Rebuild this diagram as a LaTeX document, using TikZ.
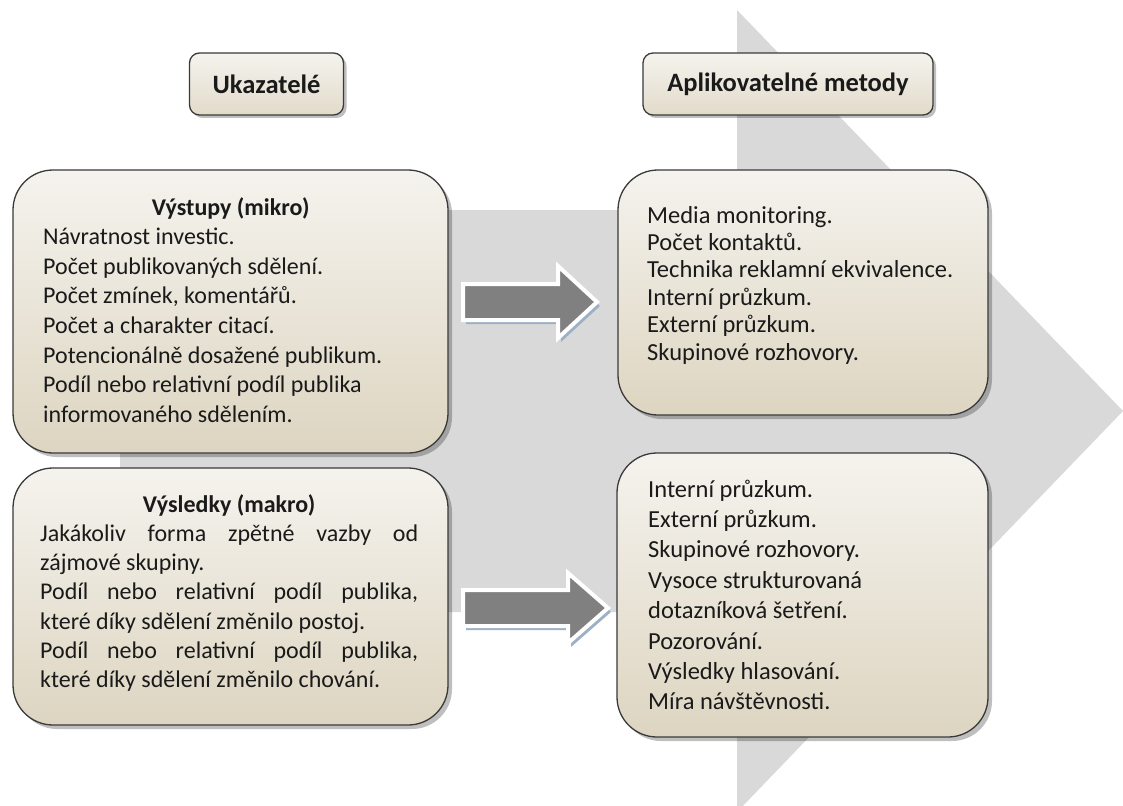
\documentclass[tikz,border=0pt]{standalone}
\usepackage{fontspec}
\setmainfont{Carlito}
\usetikzlibrary{shadows}
\definecolor{bgarrow}{HTML}{D9D9D9}
\definecolor{boxtop}{HTML}{F5F3EE}
\definecolor{boxbot}{HTML}{DDD5C1}
\definecolor{boxline}{HTML}{3A3A3A}
\definecolor{arrgrey}{HTML}{808080}
\definecolor{arrshadow}{HTML}{9CB0C6}
\definecolor{txt}{HTML}{1A1A1A}
\begin{document}
\begin{tikzpicture}[x=1pt,y=-1pt,
  panel/.style={draw=boxline, line width=1.3pt, rounded corners=40pt,
    top color=boxtop, bottom color=boxbot, inner sep=0pt,
    drop shadow={shadow xshift=4pt, shadow yshift=-4pt, fill=black, opacity=0.25}},
  header/.style={draw=boxline, line width=1.3pt, rounded corners=10pt,
    top color=boxtop, bottom color=boxbot!80!boxtop, inner sep=0pt,
    font=\fontsize{26.5}{30}\selectfont\bfseries, text=txt,
    drop shadow={shadow xshift=3pt, shadow yshift=-3pt, fill=black, opacity=0.25}},
  bodytext/.style={anchor=base west, inner sep=0pt, text=txt},
  blockarrow/.style={fill=arrgrey, draw=white, line width=4pt, line join=miter},
  blockshadow/.style={fill=arrshadow}
]
\useasboundingbox (0,0) rectangle (1123,805);
\clip (0,0) rectangle (1123,805);
\fill[white] (0,0) rectangle (1123,805);

% big background arrow
\fill[bgarrow] (120,210) -- (737,210) -- (737,10) -- (1123,411) -- (737,812)
  -- (737,612) -- (120,612) -- cycle;

% headers
\node[header, minimum width=154pt, minimum height=62pt] (hind) at (266.5,84) {Ukazatelé};
\node[header, minimum width=290pt, minimum height=62pt] (hmet) at (788,84) {Aplikovatelné metody};

% panels
\node[panel, minimum width=435pt, minimum height=283pt] (vystupy) at (230.5,311.5) {};
\node[panel, minimum width=435pt, minimum height=257pt] (vysledky) at (230.5,596.5) {};
\node[panel, minimum width=370pt, minimum height=245pt] (met1) at (803,292.5) {};
\node[panel, minimum width=371pt, minimum height=284pt] (met2) at (802.5,595) {};

% texts
\node[bodytext] (t1) at (43,215) {\begin{minipage}[t]{375pt}\fontsize{24}{29.6}\selectfont
\makebox[\linewidth]{\bfseries Výstupy (mikro)}\\
Návratnost investic.\\
Počet publikovaných sdělení.\\
Počet zmínek, komentářů.\\
Počet a charakter citací.\\
Potencionálně dosažené publikum.\\
Podíl nebo relativní podíl publika\\
informovaného sdělením.\end{minipage}};

\node[bodytext] (t2) at (40,512) {\begin{minipage}[t]{378pt}\fontsize{24}{29.3}\selectfont
\makebox[\linewidth]{\bfseries Výsledky (makro)}\\
\makebox[\linewidth][s]{Jakákoliv forma zpětné vazby od}\\
zájmové skupiny.\\
\makebox[\linewidth][s]{Podíl nebo relativní podíl publika,}\\
které díky sdělení změnilo postoj.\\
\makebox[\linewidth][s]{Podíl nebo relativní podíl publika,}\\
které díky sdělení změnilo chování.\end{minipage}};

\node[bodytext] (t3) at (647,223) {\begin{minipage}[t]{330pt}\fontsize{24.5}{27.4}\selectfont
Media monitoring.\\
Počet kontaktů.\\
Technika reklamní ekvivalence.\\
Interní průzkum.\\
Externí průzkum.\\
Skupinové rozhovory.\end{minipage}};

\node[bodytext] (t4) at (648,497) {\begin{minipage}[t]{330pt}\fontsize{24.5}{30.4}\selectfont
Interní průzkum.\\
Externí průzkum.\\
Skupinové rozhovory.\\
Vysoce strukturovaná\\
dotazníková šetření.\\
Pozorování.\\
Výsledky hlasování.\\
Míra návštěvnosti.\end{minipage}};

% block arrows
\fill[blockshadow] (466,288) -- (561,288) -- (561,270) -- (600,306) -- (561,342) -- (561,324) -- (466,324) -- cycle;
\filldraw[blockarrow] (463,284) -- (558,284) -- (558,266) -- (597,302) -- (558,338) -- (558,320) -- (463,320) -- cycle;

\fill[blockshadow] (466,594) -- (571,594) -- (571,577) -- (611,612) -- (571,647) -- (571,630) -- (466,630) -- cycle;
\filldraw[blockarrow] (463,590) -- (568,590) -- (568,573) -- (608,608) -- (568,643) -- (568,626) -- (463,626) -- cycle;
\end{tikzpicture}
\end{document}
